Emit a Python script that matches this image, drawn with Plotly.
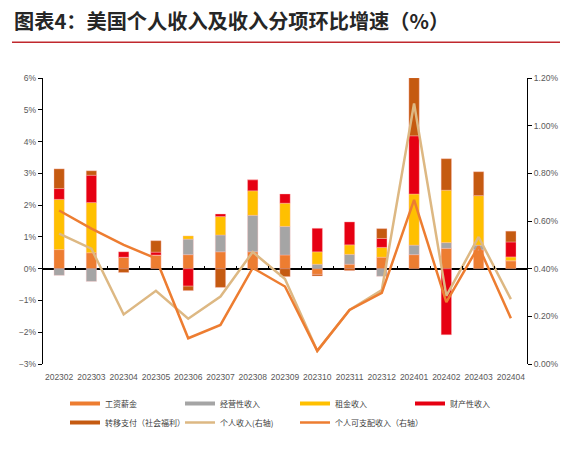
import plotly.graph_objects as go

months = ["202302", "202303", "202304", "202305", "202306", "202307", "202308", "202309",
          "202310", "202311", "202312", "202401", "202402", "202403", "202404"]

wages    = [0.60, 0.50, 0.36, 0.43, 0.44, 0.53, 0.53, 0.43, -0.18, 0.14, 0.36, 0.44, 0.64, 0.59, 0.25]
business = [-0.21, -0.40, 0.00, 0.00, 0.49, 0.53, 1.15, 0.90, 0.14, 0.31, -0.24, 0.30, 0.18, 0.15, 0.00]
rental   = [1.58, 1.58, 0.00, 0.00, 0.10, 0.58, 0.77, 0.73, 0.39, 0.30, 0.31, 1.61, 1.65, 1.56, 0.12]
property_ = [0.34, 0.86, 0.17, 0.09, -0.55, 0.08, 0.35, 0.29, 0.74, 0.72, 0.28, 1.83, -2.08, 0.00, 0.47]
transfer = [0.62, 0.14, -0.12, 0.36, -0.14, -0.59, 0.00, -0.25, -0.05, -0.06, 0.31, 1.83, 0.99, 0.75, 0.34]

personal_income   = [0.547, 0.484, 0.208, 0.307, 0.190, 0.283, 0.470, 0.357, 0.055, 0.227, 0.31, 1.093, 0.286, 0.533, 0.272]
disposable_income = [0.644, 0.568, 0.500, 0.443, 0.108, 0.164, 0.403, 0.325, 0.055, 0.227, 0.298, 0.689, 0.260, 0.494, 0.192]

bar_names = ["工资薪金", "经营性收入", "租金收入", "财产性收入", "转移支付（社会福利）"]
bar_series = [wages, business, rental, property_, transfer]
bar_colors = ["#ED7D31", "#A5A5A5", "#FFC000", "#E60012", "#C55A11"]

line_names = ["个人收入(右轴)", "个人可支配收入（右轴）"]
line_series = [personal_income, disposable_income]
line_colors = ["#DDB883", "#ED7D31"]

left_ticks = [-3, -2, -1, 0, 1, 2, 3, 4, 5, 6]
left_labels = ["−3%", "−2%", "−1%", "0%", "1%", "2%", "3%", "4%", "5%", "6%"]
right_ticks = [0.0, 0.2, 0.4, 0.6, 0.8, 1.0, 1.2]
right_labels = ["0.00%", "0.20%", "0.40%", "0.60%", "0.80%", "1.00%", "1.20%"]

NUM_FONT = "Liberation Sans Narrow, Arial Narrow, Liberation Sans, sans-serif"
CJK_FONT = "Noto Sans CJK SC, sans-serif"

fig = go.Figure()

# legend entries (line style symbols like the reference)
for name, color in zip(bar_names, bar_colors):
    fig.add_trace(go.Scatter(x=[None], y=[None], mode="lines", name=name,
                             line=dict(color=color, width=4), showlegend=True))

for name, vals, color in zip(bar_names, bar_series, bar_colors):
    fig.add_trace(go.Bar(x=months, y=vals, name=name, marker=dict(color=color,
                         line=dict(color="rgba(255,190,190,0.6)", width=0.6)),
                         width=0.32, showlegend=False))

for name, vals, color in zip(line_names, line_series, line_colors):
    fig.add_trace(go.Scatter(x=months, y=vals, name=name, mode="lines", yaxis="y2",
                             line=dict(color=color, width=2.5)))

# invisible trace to activate the zero-line tick axis
fig.add_trace(go.Scatter(x=[0], y=[0], xaxis="x2", mode="markers",
                         marker=dict(opacity=0), showlegend=False, hoverinfo="skip"))

fig.update_layout(
    width=572, height=456,
    margin=dict(l=43, r=45, t=78, b=92, autoexpand=False),
    paper_bgcolor="white", plot_bgcolor="white",
    barmode="relative",
    font=dict(family=NUM_FONT, size=8, color="#595959"),
    xaxis=dict(type="category", range=[-0.5, 14.5], showgrid=False, showline=False,
               ticks="", zeroline=False, ticklabelstandoff=6,
               tickfont=dict(size=8.5, color="#595959", family=NUM_FONT)),
    xaxis2=dict(overlaying="x", anchor="free", position=1/3, range=[-0.5, 14.5],
                tickvals=[i + 0.5 for i in range(14)], ticks="inside", ticklen=3,
                tickcolor="black", tickwidth=1.2, showticklabels=False,
                showline=False, showgrid=False, zeroline=False),
    yaxis=dict(range=[-3, 6], tickvals=left_ticks, ticktext=left_labels, showgrid=False,
               showline=True, linecolor="black", linewidth=1.3, ticks="outside",
               ticklen=4, tickcolor="black", zeroline=True, zerolinecolor="black",
               zerolinewidth=1.5, tickfont=dict(size=8.5, color="#595959")),
    yaxis2=dict(range=[0, 1.2], tickvals=right_ticks, ticktext=right_labels,
                overlaying="y", side="right", showgrid=False, showline=True,
                linecolor="black", linewidth=1.3, ticks="outside", ticklen=4,
                tickcolor="black", zeroline=False, tickfont=dict(size=8.5, color="#595959")),
    legend=dict(orientation="h", xref="container", yref="container",
                x=65/572, y=1 - 389/456, xanchor="left", yanchor="top",
                entrywidth=70, entrywidthmode="pixels", traceorder="normal",
                font=dict(family=CJK_FONT, size=8, color="#404040"),
                itemwidth=30, tracegroupgap=0, bgcolor="rgba(0,0,0,0)"),
    showlegend=True,
)

fig.add_annotation(text="<b>图表4：美国个人收入及收入分项环比增速（%）</b>", xref="paper", yref="paper",
                   x=-31/484, y=1.0, xanchor="left", yanchor="middle", yshift=58,
                   showarrow=False, font=dict(family=CJK_FONT, size=20.2, color="#262626"))
fig.add_shape(type="line", xref="paper", yref="paper", x0=-31/484, x1=1 + 33/484,
              y0=1 + 36/287, y1=1 + 36/287, line=dict(color="#C0282D", width=1.5))

fig.write_html("out.html", config={"displayModeBar": False},
               post_script="document.body.style.margin='0px';")
